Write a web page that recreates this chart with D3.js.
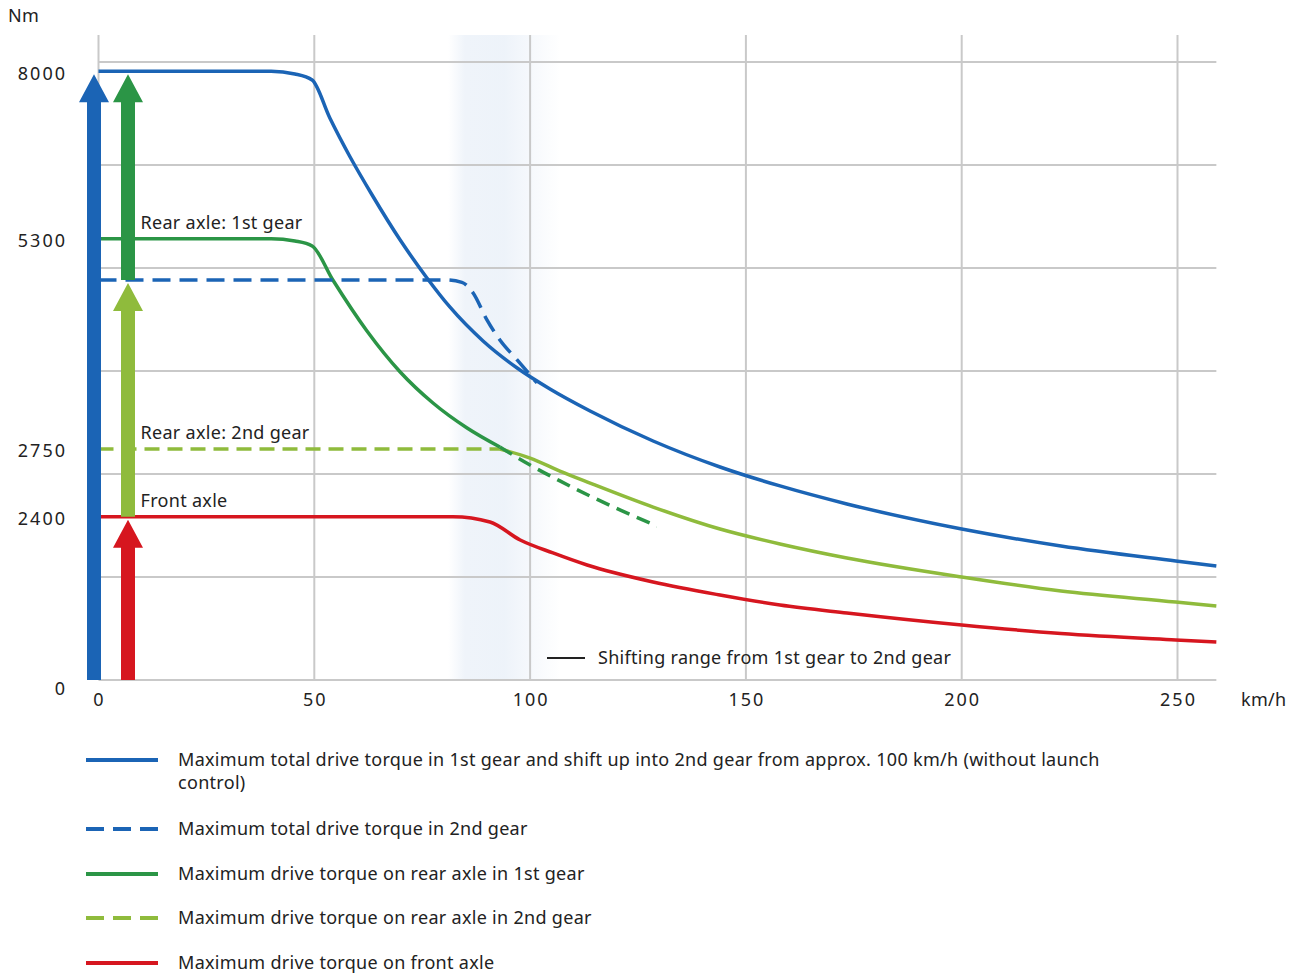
<!DOCTYPE html>
<html lang="en">
<head>
<meta charset="UTF-8" />
<title>Drive torque</title>
<script src="https://cdn.jsdelivr.net/npm/d3@7"></script>
<style>
  body { margin: 0; background: #fff; }
  svg { display: block; font-family: "Noto Sans", sans-serif; }
  text { font-size: 18px; letter-spacing: 0.3px; fill: #222; }
  .tick { letter-spacing: 2px; }
</style>
</head>
<body>
<svg width="1301" height="975"></svg>
<script>
// axis ticks (km/h and Nm)
var xTicks = [0, 50, 100, 150, 200, 250];
var yTicks = [0, 2400, 2750, 5300, 8000];
var xMax = 259;
var shiftRange = [81, 107];

// maximum total drive torque, 1st gear then shift into 2nd
var blueSpeed = [0, 40, 45.5, 49.5, 53.6, 58.3, 63.4, 69.9, 76.1, 81.4, 89.1, 97, 104.6, 113.9, 128.5, 144, 157.9, 173.4, 200, 223, 249.6, 259];
var blueTorque = [8000, 8000, 7957, 7860, 7247, 6618, 6005, 5284, 4824, 4472, 4060, 3732, 3478, 3211, 2847, 2657, 2559, 2466, 2219, 1969, 1749, 1675];

// maximum total drive torque in 2nd gear
var blue2Speed = [0, 80.3, 84.2, 86.8, 90, 93, 97, 101.6];
var blue2Torque = [4800, 4800, 4770, 4642, 4315, 4072, 3830, 3551];

// rear axle 1st gear (solid part, then dashed continuation)
var greenSpeed = [0, 40, 45.5, 49.5, 54.3, 62.2, 69.9, 77.5, 85.4, 93];
var greenTorque = [5300, 5300, 5272, 5212, 4799, 4181, 3684, 3308, 3005, 2774];
var greenExtSpeed = [93, 100, 106.9, 113.9, 120.8, 129.4];
var greenExtTorque = [2774, 2667, 2585, 2507, 2435, 2263];

// rear axle 2nd gear (dashed flat part, then solid)
var lightSpeed = [0, 93];
var lightTorque = [2750, 2750];
var lightExtSpeed = [93, 100, 106.9, 113.9, 128.5, 144, 157.9, 173.4, 200, 223, 249.6, 259];
var lightExtTorque = [2750, 2703, 2636, 2574, 2450, 2219, 1999, 1793, 1514, 1308, 1146, 1088];

// front axle
var redSpeed = [0, 82.1, 90.7, 97.7, 105.3, 113.2, 128.5, 144, 157.9, 173.4, 200, 223, 249.6, 259];
var redTorque = [2400, 2400, 2322, 2058, 1867, 1690, 1440, 1249, 1102, 985, 808, 683, 588, 558];

// stacked torque arrows at standstill
var arrowFrom = [0, 4800, 2400, 0];
var arrowTo = [8000, 8000, 4800, 2400];

var legendLabels = [
  ["Maximum total drive torque in 1st gear and shift up into 2nd gear from approx. 100 km/h (without launch", "control)"],
  ["Maximum total drive torque in 2nd gear"],
  ["Maximum drive torque on rear axle in 1st gear"],
  ["Maximum drive torque on rear axle in 2nd gear"],
  ["Maximum drive torque on front axle"]
];
var curveLabels = ["Rear axle: 1st gear", "Rear axle: 2nd gear", "Front axle"];
var curveLabelValues = [5300, 2750, 2400];

var BLUE = "#1b64b5", GREEN = "#2b9546", LIGHT = "#8fbb3c", RED = "#d6161f", GRID = "#c9c9c9";

var svg = d3.select("svg");
var plotLeft = 98.5, plotBottom = 680, plotTop = 71.3, gridTop = 35;

var x = d3.scaleLinear().domain([0, 250]).range([plotLeft, 1177.5]);
// schematic torque axis: the ticks are not evenly spaced in the original
var y = d3.scaleLinear().domain(yTicks).range([plotBottom, 516.7, 449, 238.7, plotTop]);
var gridRow = d3.scaleLinear().domain([0, 6]).range([plotBottom, 62]);

var zip = function (a, b) { return a.map(function (v, i) { return [v, b[i]]; }); };
var line = d3.line().x(function (d) { return x(d[0]); }).y(function (d) { return y(d[1]); }).curve(d3.curveMonotoneX);

// shifting range band
var defs = svg.append("defs");
var grad = defs.append("linearGradient").attr("id", "shift").attr("x1", 0).attr("x2", 1).attr("y1", 0).attr("y2", 0);
[[0, 0], [0.15, 0.55], [0.5, 0.6], [0.75, 0.3], [1, 0]].forEach(function (s) {
  grad.append("stop").attr("offset", s[0]).attr("stop-color", "#e2ebf6").attr("stop-opacity", s[1]);
});
svg.append("rect")
  .attr("x", x(shiftRange[0])).attr("width", x(shiftRange[1]) - x(shiftRange[0]))
  .attr("y", gridTop).attr("height", plotBottom - gridTop)
  .attr("fill", "url(#shift)");

// grid
svg.append("g").selectAll("line").data(d3.range(7)).enter().append("line")
  .attr("x1", plotLeft).attr("x2", x(xMax))
  .attr("y1", function (d) { return gridRow(d); }).attr("y2", function (d) { return gridRow(d); })
  .attr("stroke", GRID).attr("stroke-width", 2);
svg.append("g").selectAll("line").data(xTicks).enter().append("line")
  .attr("x1", function (d) { return x(d); }).attr("x2", function (d) { return x(d); })
  .attr("y1", gridTop).attr("y2", plotBottom)
  .attr("stroke", GRID).attr("stroke-width", 2);

// axis labels
svg.append("g").selectAll("text").data(xTicks).enter().append("text")
  .attr("class", "tick")
  .attr("x", function (d) { return x(d) + 1; }).attr("y", 700).attr("dy", "0.35em")
  .attr("text-anchor", "middle")
  .text(function (d) { return d; });
svg.append("g").selectAll("text").data(yTicks).enter().append("text")
  .attr("class", "tick")
  .attr("x", 67).attr("y", function (d) { return y(d) + (d === 0 ? 9 : 2); }).attr("dy", "0.35em")
  .attr("text-anchor", "end")
  .text(function (d) { return d; });
svg.append("text").attr("x", 8).attr("y", 16).attr("dy", "0.35em").text("Nm");
svg.append("text").attr("x", 1241).attr("y", 700).attr("dy", "0.35em").text("km/h");

// curves
function draw(pts, color, dash) {
  svg.append("path").datum(pts).attr("d", line)
    .attr("fill", "none").attr("stroke", color).attr("stroke-width", 3.5)
    .attr("stroke-dasharray", dash || null);
}
draw(zip(redSpeed, redTorque), RED);
draw(zip(lightSpeed, lightTorque), LIGHT, "15,8");
draw(zip(lightExtSpeed, lightExtTorque), LIGHT);
draw(zip(greenExtSpeed, greenExtTorque), GREEN, "14,8");
draw(zip(greenSpeed, greenTorque), GREEN);
draw(zip(blue2Speed, blue2Torque), BLUE, "18,9");
draw(zip(blueSpeed, blueTorque), BLUE);

// arrows
var arrowColors = [BLUE, GREEN, LIGHT, RED];
var arrowX = [x(0) - 4.5, x(0) + 29.5, x(0) + 29.5, x(0) + 29.5];
arrowFrom.forEach(function (f, i) {
  var cx = arrowX[i], y0 = y(f), y1 = y(arrowTo[i]) + 3, hw = 7, hh = 15, hl = 28;
  var p = d3.path();
  p.moveTo(cx - hw, y0);
  p.lineTo(cx - hw, y1 + hl);
  p.lineTo(cx - hh, y1 + hl);
  p.lineTo(cx, y1);
  p.lineTo(cx + hh, y1 + hl);
  p.lineTo(cx + hw, y1 + hl);
  p.lineTo(cx + hw, y0);
  p.closePath();
  svg.append("path").attr("d", p.toString()).attr("fill", arrowColors[i]);
});

// curve labels
svg.append("g").selectAll("text").data(curveLabels).enter().append("text")
  .attr("x", x(0) + 42).attr("y", function (d, i) { return y(curveLabelValues[i]) - 10; })
  .text(function (d) { return d; });

// shifting range note
svg.append("line").attr("x1", 547).attr("x2", 585).attr("y1", 658).attr("y2", 658)
  .attr("stroke", "#222").attr("stroke-width", 2);
svg.append("text").attr("x", 598).attr("y", 658).attr("dy", "0.35em")
  .text("Shifting range from 1st gear to 2nd gear");

// legend
var legendColors = [BLUE, BLUE, GREEN, LIGHT, RED];
var legendDash = [null, "18,9", null, "18,9", null];
var legendY = [760, 829, 874, 918, 963];
legendLabels.forEach(function (lines, i) {
  var g = svg.append("g").attr("transform", "translate(0," + legendY[i] + ")");
  g.append("line").attr("x1", 86).attr("x2", 158)
    .attr("stroke", legendColors[i]).attr("stroke-width", 4)
    .attr("stroke-dasharray", legendDash[i]);
  g.selectAll("text").data(lines).enter().append("text")
    .attr("x", 178).attr("y", function (d, j) { return j * 23; }).attr("dy", "0.35em")
    .text(function (d) { return d; });
});
</script>
</body>
</html>
